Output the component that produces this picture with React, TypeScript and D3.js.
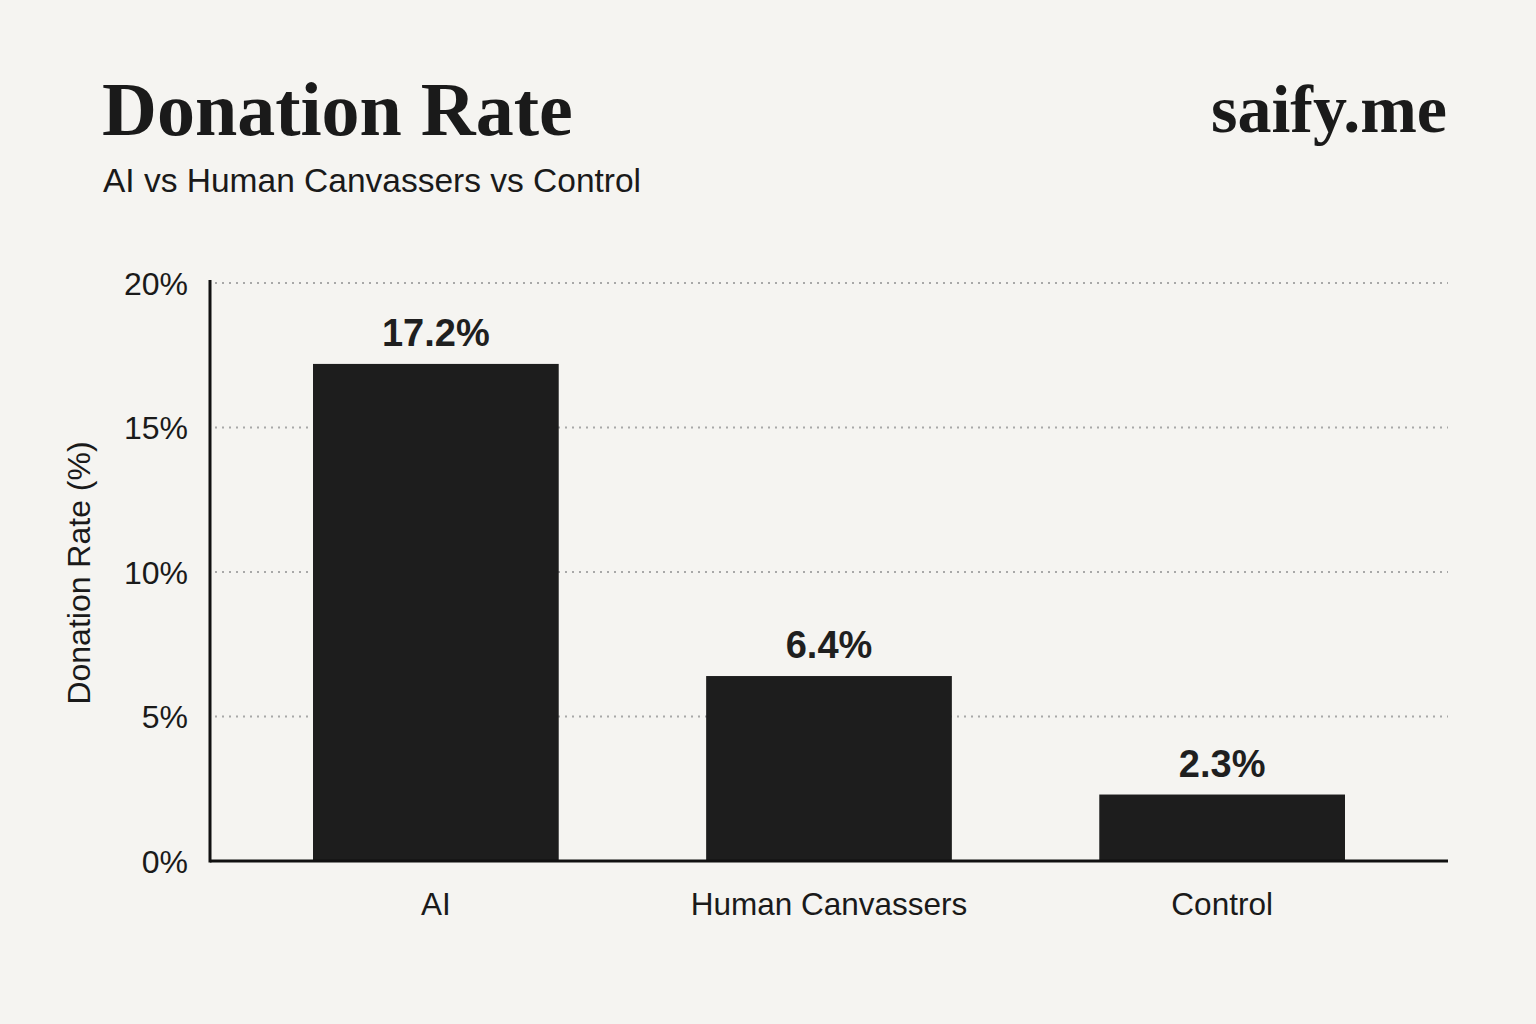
import { useCallback, useEffect, useRef } from "react";
import * as d3 from "d3";

const categories = ["AI", "Human Canvassers", "Control"];
const donationRates = [17.2, 6.4, 2.3];
const yTicks = [0, 5, 10, 15, 20];

const title = "Donation Rate";
const subtitle = "AI vs Human Canvassers vs Control";
const brand = "saify.me";
const yLabel = "Donation Rate (%)";

export default function App() {
  const chart = useRef<SVGSVGElement | null>(null);
  const width = 1536;
  const height = 1024;
  const margin = { top: 283, right: 88, bottom: 163, left: 210 };

  const drawChart = useCallback(() => {
    const svg = d3.select(chart.current);
    svg.selectAll("*").remove();
    svg.attr("width", width).attr("height", height);

    const sans = "'Liberation Sans', Arial, sans-serif";
    const serif = "'Liberation Serif', 'Times New Roman', serif";

    svg.append("rect").attr("width", width).attr("height", height).attr("fill", "#f5f4f1");

    const x = d3.scaleBand<string>()
      .domain(categories)
      .range([margin.left, width - margin.right])
      .paddingInner(0.375)
      .paddingOuter(0.262);
    const y = d3.scaleLinear().domain([0, 20]).range([height - margin.bottom, margin.top]);

    // header
    svg.append("text")
      .attr("x", 102).attr("y", 135)
      .attr("font-family", serif).attr("font-weight", "700")
      .attr("font-size", "76px").attr("fill", "#1a1a1a")
      .text(title);
    svg.append("text")
      .attr("x", 103).attr("y", 192)
      .attr("font-family", sans).attr("font-size", "33.5px").attr("fill", "#1a1a1a")
      .text(subtitle);
    svg.append("text")
      .attr("x", 1447).attr("y", 132)
      .attr("text-anchor", "end")
      .attr("font-family", serif).attr("font-weight", "700")
      .attr("font-size", "68px").attr("fill", "#1a1a1a")
      .text(brand);

    // gridlines
    svg.append("g")
      .selectAll("line")
      .data(yTicks.filter((t) => t > 0))
      .enter()
      .append("line")
      .attr("x1", margin.left + 5).attr("x2", width - margin.right)
      .attr("y1", (d) => y(d)).attr("y2", (d) => y(d))
      .attr("stroke", "#a8a8a8").attr("stroke-width", 2)
      .attr("stroke-dasharray", "2 5");

    // tick labels
    svg.append("g")
      .selectAll("text")
      .data(yTicks)
      .enter()
      .append("text")
      .attr("x", margin.left - 22).attr("y", (d) => y(d))
      .attr("dy", "0.36em").attr("text-anchor", "end")
      .attr("font-family", sans).attr("font-size", "32px").attr("fill", "#1a1a1a")
      .text((d) => `${d}%`);

    // bars
    svg.append("g")
      .selectAll("rect")
      .data(donationRates)
      .enter()
      .append("rect")
      .attr("x", (d, i) => x(categories[i]) as number)
      .attr("width", x.bandwidth())
      .attr("y", (d) => y(d))
      .attr("height", (d) => y(0) - y(d))
      .attr("fill", "#1d1d1d");

    // value labels
    svg.append("g")
      .selectAll("text")
      .data(donationRates)
      .enter()
      .append("text")
      .attr("x", (d, i) => (x(categories[i]) as number) + x.bandwidth() / 2)
      .attr("y", (d) => y(d) - 18)
      .attr("text-anchor", "middle")
      .attr("font-family", sans).attr("font-weight", "700")
      .attr("font-size", "38px").attr("fill", "#1f1f1f")
      .text((d) => `${d.toFixed(1)}%`);

    // category labels
    svg.append("g")
      .selectAll("text")
      .data(categories)
      .enter()
      .append("text")
      .attr("x", (d) => (x(d) as number) + x.bandwidth() / 2)
      .attr("y", 915)
      .attr("text-anchor", "middle")
      .attr("font-family", sans).attr("font-size", "31.5px").attr("fill", "#1a1a1a")
      .text((d) => d);

    // axes lines
    svg.append("line")
      .attr("x1", margin.left).attr("x2", margin.left)
      .attr("y1", margin.top - 3).attr("y2", y(0) + 1.5)
      .attr("stroke", "#111").attr("stroke-width", 3);
    svg.append("line")
      .attr("x1", margin.left).attr("x2", width - margin.right)
      .attr("y1", y(0)).attr("y2", y(0))
      .attr("stroke", "#111").attr("stroke-width", 3);

    // y axis title
    svg.append("text")
      .attr("transform", `translate(${90},${573}) rotate(-90)`)
      .attr("text-anchor", "middle")
      .attr("font-family", sans).attr("font-size", "32px").attr("fill", "#1a1a1a")
      .text(yLabel);
  }, []);

  useEffect(() => {
    drawChart();
  }, [drawChart]);

  return (
    <svg
      ref={chart}
      style={{ position: "absolute", left: 0, top: 0, display: "block" }}
    ></svg>
  );
}
